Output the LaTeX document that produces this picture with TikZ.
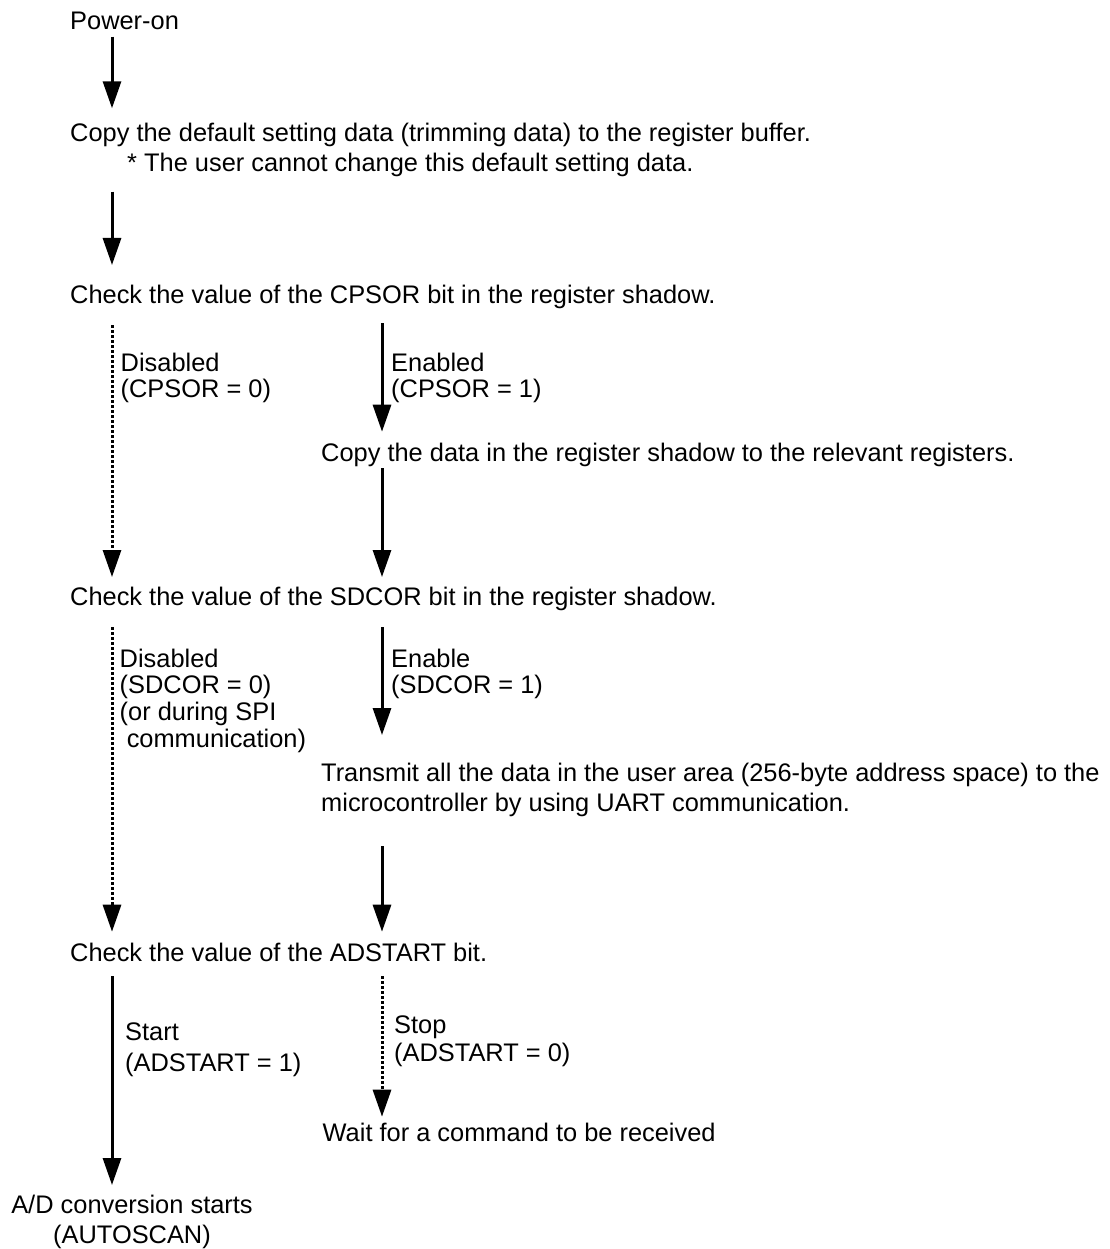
\documentclass[tikz,border=0pt]{standalone}
\usepackage{fontspec}
\setmainfont{Liberation Sans}
\usetikzlibrary{arrows.meta,calc}

% multi-line text whose reference point is the baseline of its first line
\newcommand\rows[3][l]{\fontsize{25.4}{#2}\selectfont\begin{tabular}[t]{@{}#1@{}}#3\end{tabular}}

\tikzset{
  txt/.style={anchor=base west, inner sep=0pt, font=\fontsize{25.4}{27}\selectfont},
  flow/.style={line width=3pt, -{Triangle[length=27pt,width=18pt]}},
  skipflow/.style={flow, dash pattern=on 3pt off 2pt},
}

\begin{document}
\begin{tikzpicture}[x=1pt, y=-1pt]
\useasboundingbox (0,0) rectangle (1109,1249);

% arrow columns
\coordinate (c1) at (112,0);
\coordinate (c2) at (382,0);

% steps
\node[txt] (pwr)  at (70,30)    {Power-on};
\node[txt] (cpy)  at (70,141.7) {Copy the default setting data (trimming data) to the register buffer.};
\node[txt] (note) at (127,171.7){* The user cannot change this default setting data.};
\node[txt] (chk1) at (70,303)   {Check the value of the CPSOR bit in the register shadow.};
\node[txt] (cpd)  at (321,461.7){Copy the data in the register shadow to the relevant registers.};
\node[txt] (chk2) at (70,605)   {Check the value of the SDCOR bit in the register shadow.};
\node[txt] (tx)   at (321,781.7){\rows{30}{Transmit all the data in the user area (256-byte address space) to the\\
                                  microcontroller by using UART communication.}};
\node[txt] (chk3) at (70,961.7) {Check the value of the ADSTART bit.};
\node[txt] (wt)   at (322.5,1141.7){Wait for a command to be received};
\node[txt, anchor=base] (ad) at (132,1213) {\rows[c]{30}{A/D conversion starts\\(AUTOSCAN)}};

% branch labels
\node[txt] (dis1) at (120.5,371.7) {\rows{26}{Disabled\\(CPSOR = 0)}};
\node[txt] (en1)  at (391,371.7)   {\rows{26}{Enabled\\(CPSOR = 1)}};
\node[txt] (dis2) at (119.5,667)   {\rows{26.7}{Disabled\\(SDCOR = 0)\\(or during SPI\\\ communication)}};
\node[txt] (en2)  at (391,667)     {\rows{26.7}{Enable\\(SDCOR = 1)}};
\node[txt] (sta)  at (125,1040)    {\rows{31}{Start\\(ADSTART = 1)}};
\node[txt] (stp)  at (394,1033)    {\rows{28.7}{Stop\\(ADSTART = 0)}};

% connectors
\draw[flow]     ($(pwr.base -| c1)+(0,6.7)$)   -- ($(cpy.base -| c1)+(0,-33.4)$);
\draw[flow]     ($(cpy.base -| c1)+(0,50)$)    -- ($(chk1.base -| c1)+(0,-38)$);
\draw[skipflow] ($(chk1.base -| c1)+(0,22)$)   -- ($(chk2.base -| c1)+(0,-28)$);
\draw[flow]     ($(chk1.base -| c2)+(0,20)$)   -- ($(cpd.base -| c2)+(0,-30)$);
\draw[flow]     ($(cpd.base -| c2)+(0,6.6)$)   -- ($(chk2.base -| c2)+(0,-28)$);
\draw[skipflow] ($(chk2.base -| c1)+(0,22)$)   -- ($(chk3.base -| c1)+(0,-30)$);
\draw[flow]     ($(chk2.base -| c2)+(0,22)$)   -- ($(tx.base -| c2)+(0,-46.7)$);
\draw[flow]     ($(tx.base -| c2)+(0,64.3)$)   -- ($(chk3.base -| c2)+(0,-30)$);
\draw[flow]     ($(chk3.base -| c1)+(0,14.3)$) -- ($(ad.base -| c1)+(0,-28)$);
\draw[skipflow] ($(chk3.base -| c2)+(0,14.3)$) -- ($(wt.base -| c2)+(0,-25)$);
\end{tikzpicture}
\end{document}
